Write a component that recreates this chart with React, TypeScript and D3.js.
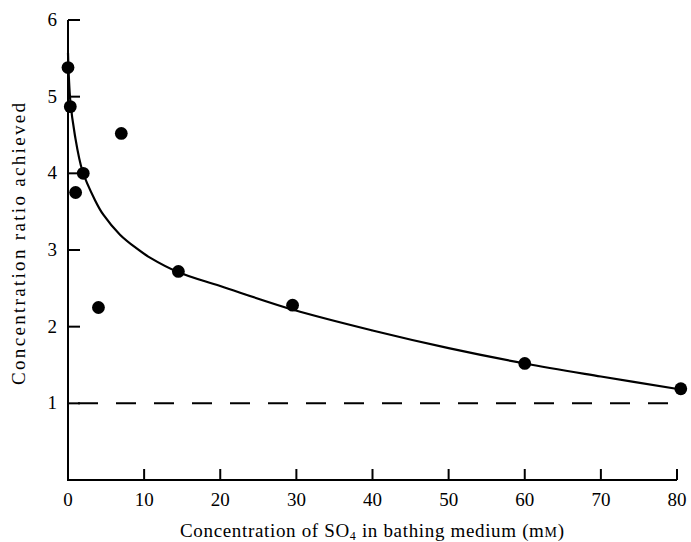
import React from 'react';
import * as d3 from 'd3';

// measured points (SO4 mM, concentration ratio)
const pointX = [0, 0.3, 1, 2, 4, 7, 14.5, 29.5, 60, 80.5];
const pointY = [5.38, 4.87, 3.75, 4.0, 2.25, 4.52, 2.72, 2.28, 1.52, 1.19];

// fitted curve
const curveX = [0, 0.3, 0.9, 1.9, 3.55, 4.64, 6.83, 9.02, 10.77, 14.5, 20, 29.6, 40, 50, 60, 70, 80.5];
const curveY = [5.57, 4.95, 4.5, 4.03, 3.65, 3.46, 3.2, 3.02, 2.9, 2.71, 2.53, 2.22, 1.95, 1.72, 1.52, 1.35, 1.18];

const xTicks = [0, 10, 20, 30, 40, 50, 60, 70, 80];
const yTicks = [1, 2, 3, 4, 5, 6];
const unityRatio = 1;

const font = '"Liberation Serif", "Times New Roman", serif';

export default function App() {
  const width = 691;
  const height = 542;

  const x = d3.scaleLinear().domain([0, 80]).range([68, 677]);
  const y = d3.scaleLinear().domain([0, 6]).range([480, 20]);

  const line = d3.line<[number, number]>()
    .x(d => x(d[0]))
    .y(d => y(d[1]))
    .curve(d3.curveCatmullRom.alpha(0.5));

  const curveData: [number, number][] = curveX.map((v, i) => [v, curveY[i]]);

  return (
    <svg width={width} height={height}
      style={{ position: 'absolute', left: 0, top: 0, background: '#fff' }}
      fontFamily={font}>
      <rect width={width} height={height} fill="#fff" />

      {/* axes */}
      <path d={`M${x(0)},${y(6)}V${y(0)}H${x(80)}`} fill="none" stroke="#000" strokeWidth={2} />
      {yTicks.map(t => (
        <g key={'y' + t}>
          <line x1={x(0)} x2={x(0) + 12} y1={y(t)} y2={y(t)} stroke="#000" strokeWidth={2} />
          <text x={57} y={y(t) + 6} textAnchor="end" fontSize={19}>{t}</text>
        </g>
      ))}
      {xTicks.map(t => (
        <g key={'x' + t}>
          {t > 0 && <line x1={x(t)} x2={x(t)} y1={y(0)} y2={y(0) - 11} stroke="#000" strokeWidth={2} />}
          <text x={x(t)} y={506} textAnchor="middle" fontSize={19}>{t}</text>
        </g>
      ))}

      {/* reference line at ratio 1 */}
      <line x1={x(0)} x2={x(80)} y1={y(unityRatio)} y2={y(unityRatio)}
        stroke="#000" strokeWidth={2} strokeDasharray="20 18" strokeDashoffset={-10} />

      {/* fitted curve */}
      <path d={line(curveData) ?? ''} fill="none" stroke="#000" strokeWidth={2.2} />

      {/* data points */}
      {pointX.map((v, i) => (
        <circle key={i} cx={x(v)} cy={y(pointY[i])} r={6.4} fill="#000" />
      ))}

      {/* labels */}
      <text x={372} y={537} textAnchor="middle" fontSize={19} textLength={384} lengthAdjust="spacing">
        Concentration of SO<tspan fontSize={12} dy={3}>4</tspan>
        <tspan dy={-3}> in bathing medium (m</tspan>
        <tspan fontSize={14}>M</tspan>)
      </text>
      <text transform={`translate(25,244) rotate(-90)`} textAnchor="middle" fontSize={19}
        textLength={282} lengthAdjust="spacing">
        Concentration ratio achieved
      </text>
    </svg>
  );
}
